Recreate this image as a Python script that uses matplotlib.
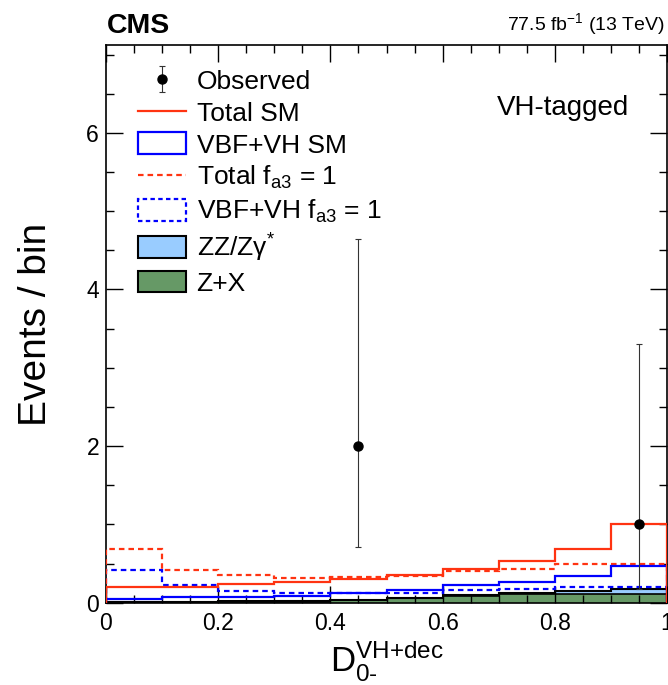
import numpy as np
import matplotlib
matplotlib.use("Agg")
from matplotlib import pyplot as plt
from matplotlib.lines import Line2D
from matplotlib.patches import Patch
from matplotlib.ticker import MultipleLocator, FuncFormatter

# bin edges of the discriminant
edges = [0.0, 0.1, 0.2, 0.3, 0.4, 0.5, 0.6, 0.7, 0.8, 0.9, 1.0]

# expected yields per bin
total_sm = [0.205, 0.205, 0.24, 0.265, 0.30, 0.355, 0.434, 0.53, 0.68, 1.01]
vbfvh_sm = [0.047, 0.068, 0.077, 0.09, 0.12, 0.16, 0.22, 0.27, 0.34, 0.47]
total_fa3 = [0.68, 0.42, 0.355, 0.32, 0.33, 0.335, 0.40, 0.43, 0.49, 0.49]
vbfvh_fa3 = [0.42, 0.226, 0.154, 0.124, 0.125, 0.13, 0.16, 0.175, 0.20, 0.20]
zx = [0.004, 0.005, 0.008, 0.012, 0.03, 0.055, 0.085, 0.105, 0.11, 0.11]
zz = [0.006, 0.006, 0.008, 0.01, 0.008, 0.01, 0.013, 0.015, 0.043, 0.07]

# observed events (only non-empty bins)
obs_x = [0.45, 0.95]
obs_y = [2, 1]
obs_lo = [1.29, 0.83]
obs_hi = [2.64, 2.30]

RED = "#ff3311"
BLUE = "#0000ff"
LBLUE = "#99ccff"
GREEN = "#669966"

plt.rcParams["font.family"] = ["Liberation Sans", "DejaVu Sans"]
plt.rcParams["mathtext.fontset"] = "custom"
plt.rcParams["mathtext.rm"] = "Liberation Sans"
plt.rcParams["mathtext.it"] = "Liberation Sans:italic"
plt.rcParams["mathtext.bf"] = "Liberation Sans:bold"

fig = plt.figure(figsize=(6.68, 6.85), dpi=100)
ax = fig.add_axes([106 / 668, 82.3 / 685, 561 / 668, 557.5 / 685])

stack_top = np.array(zx) + np.array(zz)
ax.stairs(zx, edges, fill=True, color=GREEN, zorder=1)
ax.stairs(stack_top, edges, baseline=zx, fill=True, color=LBLUE, zorder=1)
ax.stairs(zx, edges, color="black", lw=1.2, zorder=2)
ax.stairs(stack_top, edges, color="black", lw=1.5, zorder=2)

ax.stairs(vbfvh_fa3, edges, color=BLUE, lw=1.6, ls=(0, (2.5, 1.8)), zorder=3)
ax.stairs(total_fa3, edges, color=RED, lw=1.6, ls=(0, (2.5, 1.8)), zorder=3)
ax.stairs(vbfvh_sm, edges, color=BLUE, lw=1.6, zorder=4)
ax.stairs(total_sm, edges, color=RED, lw=1.6, zorder=4)

obs = ax.errorbar(obs_x, obs_y, yerr=[obs_lo, obs_hi], fmt="o", color="black",
                  ms=6.5, elinewidth=0.8, capsize=2, capthick=0.8, ecolor="#333333",
                  zorder=6)

ax.set_xlim(0, 1)
ax.set_ylim(0, 7.12)
ax.xaxis.set_major_locator(MultipleLocator(0.2))
ax.xaxis.set_minor_locator(MultipleLocator(0.05))
ax.yaxis.set_major_locator(MultipleLocator(2))
ax.yaxis.set_minor_locator(MultipleLocator(0.5))
ax.xaxis.set_major_formatter(FuncFormatter(lambda v, p: "%g" % v))
ax.tick_params(which="both", direction="in", top=True, right=True, width=1)
ax.tick_params(which="major", length=12, labelsize=16.5)
ax.tick_params(which="minor", length=6)
ax.tick_params(axis="x", which="major", pad=7)
ax.tick_params(axis="y", which="major", pad=5)
for s in ax.spines.values():
    s.set_linewidth(1.2)

ax.set_ylabel("Events / bin", fontsize=28, labelpad=23)
ax.set_xlabel(r"$\mathrm{D}_{\mathrm{0}\text{-}}^{\mathrm{VH{+}dec}}$", fontsize=25,
              labelpad=2)

fig.text(107 / 668, 1 - 33 / 685, "CMS", fontsize=20.5, fontweight="bold",
         ha="left", va="baseline")
fig.text(665 / 668, 1 - 30.5 / 685, r"77.5 fb$^{\mathrm{-1}}$ (13 TeV)", fontsize=14,
         ha="right", va="baseline")
fig.text(497 / 668, 1 - 115 / 685, "VH-tagged", fontsize=20, ha="left", va="baseline")

handles = [
    obs,
    Line2D([], [], color=RED, lw=1.6),
    Patch(facecolor="none", edgecolor=BLUE, lw=1.6),
    Line2D([], [], color=RED, lw=1.6, ls=(0, (2.5, 1.8))),
    Patch(facecolor="none", edgecolor=BLUE, lw=1.6, ls=(0, (2, 1.5))),
    Patch(facecolor=LBLUE, edgecolor="black", lw=1.5),
    Patch(facecolor=GREEN, edgecolor="black", lw=1.5),
]
labels = [
    "Observed",
    "Total SM",
    "VBF+VH SM",
    r"Total f$_{\mathrm{a3}}$ = 1",
    r"VBF+VH f$_{\mathrm{a3}}$ = 1",
    r"ZZ/Zγ$^{*}$",
    "Z+X",
]
ax.legend(handles, labels, loc="upper left", bbox_to_anchor=(0.057, 0.957),
          frameon=False, fontsize=19, borderpad=0, borderaxespad=0,
          handlelength=1.82, handleheight=0.9, handletextpad=0.4,
          labelspacing=0.25)

plt.savefig("out.png", dpi=100)
